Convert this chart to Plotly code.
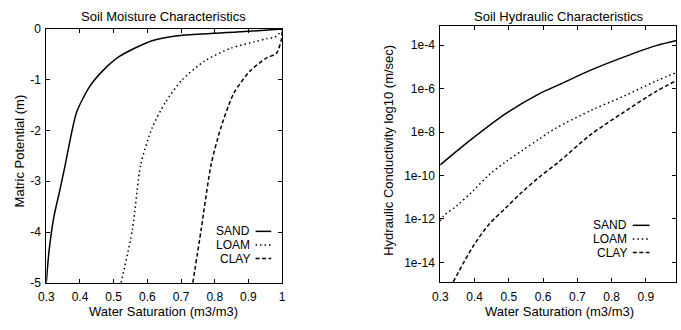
import numpy as np
import plotly.graph_objects as go

W, H = 681, 330
FONT = "Liberation Sans, Arial, Helvetica, sans-serif"
FS = 13
TFS = 12
LFS = 12

# ---- Soil moisture characteristics (matric potential, m) ----
sand_sat_m = [0.300, 0.308, 0.322, 0.342, 0.356, 0.390, 0.429, 0.468, 0.517, 0.614, 0.711, 0.866, 1.000]
sand_psi = [-5.00, -4.38, -3.72, -3.12, -2.68, -1.64, -1.13, -0.82, -0.54, -0.23, -0.12, -0.06, 0.00]

loam_sat_m = [0.522, 0.556, 0.580, 0.614, 0.653, 0.702, 0.770, 0.847, 0.925, 0.954, 0.978, 0.990, 0.997, 1.000]
loam_psi = [-5.00, -3.94, -2.68, -1.95, -1.45, -1.01, -0.63, -0.38, -0.24, -0.19, -0.16, -0.10, -0.02, 0.00]

clay_sat_m = [0.735, 0.760, 0.789, 0.818, 0.857, 0.906, 0.954, 0.983, 0.998, 1.000]
clay_psi = [-5.00, -3.94, -2.68, -1.95, -1.26, -0.82, -0.57, -0.48, -0.20, 0.00]

# ---- Soil hydraulic characteristics (log10 K, m/s) ----
sand_sat_k = [0.300, 0.396, 0.491, 0.587, 0.644, 0.739, 0.835, 0.930, 0.990]
sand_logk = [-9.51, -8.27, -7.15, -6.25, -5.84, -5.15, -4.55, -4.02, -3.78]

loam_sat_k = [0.300, 0.310, 0.348, 0.396, 0.443, 0.491, 0.539, 0.587, 0.634, 0.739, 0.835, 0.930, 0.990]
loam_logk = [-12.10, -11.85, -11.40, -10.70, -9.96, -9.37, -8.85, -8.34, -7.85, -7.01, -6.35, -5.65, -5.25]

clay_sat_k = [0.338, 0.396, 0.443, 0.491, 0.539, 0.587, 0.644, 0.739, 0.835, 0.930, 0.990]
clay_logk = [-14.90, -13.26, -12.24, -11.50, -10.76, -10.10, -9.40, -8.12, -7.09, -6.13, -5.62]

x_ticks = [0.3, 0.4, 0.5, 0.6, 0.7, 0.8, 0.9, 1.0]
x_ticktext = ["0.3", "0.4", "0.5", "0.6", "0.7", "0.8", "0.9", "1"]
psi_ticks = [0, -1, -2, -3, -4, -5]
psi_ticktext = ["0", "-1", "-2", "-3", "-4", "-5"]
k_ticks = [1e-4, 1e-6, 1e-8, 1e-10, 1e-12, 1e-14]
k_ticktext = ["1e-4", "1e-6", "1e-8", "1e-10", "1e-12", "1e-14"]

soils = ["SAND", "LOAM", "CLAY"]
dashes = ["solid", "1.5px,3px", "4px,2.5px"]


def px(x):
    return x / W


def py(y):
    return 1 - y / H


fig = go.Figure()
moist = [(sand_sat_m, sand_psi), (loam_sat_m, loam_psi), (clay_sat_m, clay_psi)]
hyd = [(sand_sat_k, sand_logk), (loam_sat_k, loam_logk), (clay_sat_k, clay_logk)]
for name, d, (xs, ys) in zip(soils, dashes, moist):
    fig.add_trace(go.Scatter(x=xs, y=ys, mode="lines", name=name, xaxis="x", yaxis="y",
                             line=dict(color="black", width=1.5, dash=d, shape="spline", smoothing=0.7),
                             showlegend=False))
for name, d, (xs, ls) in zip(soils, dashes, hyd):
    fig.add_trace(go.Scatter(x=xs, y=10 ** np.array(ls), mode="lines", name=name, xaxis="x2", yaxis="y2",
                             line=dict(color="black", width=1.5, dash=d, shape="spline", smoothing=0.9),
                             showlegend=False))

axis_common = dict(showgrid=False, zeroline=False, showline=True, linecolor="black", linewidth=1,
                   mirror="ticks", ticks="inside", ticklen=4, tickcolor="black", tickwidth=1,
                   tickfont=dict(family=FONT, size=TFS, color="black"))

fig.update_layout(
    width=W, height=H,
    margin=dict(l=0, r=0, t=0, b=0),
    paper_bgcolor="white", plot_bgcolor="white",
    font=dict(family=FONT, size=FS, color="black"),
    xaxis=dict(domain=[px(39), px(279)], range=[0.3, 1.0], anchor="y",
               tickvals=x_ticks, ticktext=x_ticktext, ticklabelstandoff=3, **axis_common),
    yaxis=dict(domain=[py(288), py(23)], range=[-5, 0], anchor="x",
               tickvals=psi_ticks, ticktext=psi_ticktext, ticklabelstandoff=2, **axis_common),
    xaxis2=dict(domain=[px(440), px(680)], range=[0.3, 0.988], anchor="y2",
                tickvals=x_ticks, ticktext=x_ticktext, ticklabelstandoff=3, **axis_common),
    yaxis2=dict(domain=[py(287.5), py(19.5)], type="log", range=[-14.92, -3.1], anchor="x2",
                tickvals=k_ticks, ticktext=k_ticktext, ticklabelstandoff=2, **axis_common),
)

ann = []
shapes = []


def text(x, y, s, angle=0, xanchor="center", size=FS):
    ann.append(dict(x=px(x), y=py(y), xref="paper", yref="paper", text=s, showarrow=False,
                    xanchor=xanchor, yanchor="middle", textangle=angle,
                    font=dict(family=FONT, size=size, color="black")))


text(158, 10, "Soil Moisture Characteristics")
text(561, 10, "Soil Hydraulic Characteristics")
text(158, 318, "Water Saturation (m3/m3)")
text(561, 318, "Water Saturation (m3/m3)")
text(12, 150, "Matric Potential (m)", angle=-90)
text(387, 150, "Hydraulic Conductivity log10 (m/sec)", angle=-90)

# legends (text left of line sample)
for i, (name, d) in enumerate(zip(soils, dashes)):
    yl = 234.3 + i * 14.2
    text(248, yl, name, xanchor="right", size=LFS)
    shapes.append(dict(type="line", xref="paper", yref="paper", x0=px(252), x1=px(268),
                       y0=py(yl), y1=py(yl), line=dict(color="black", width=1.5, dash=d)))
    yr = 228 + i * 14.2
    text(632.5, yr, name, xanchor="right", size=LFS)
    shapes.append(dict(type="line", xref="paper", yref="paper", x0=px(636), x1=px(653),
                       y0=py(yr), y1=py(yr), line=dict(color="black", width=1.5, dash=d)))

fig.update_layout(annotations=ann, shapes=shapes)
fig.write_html("out.html")
